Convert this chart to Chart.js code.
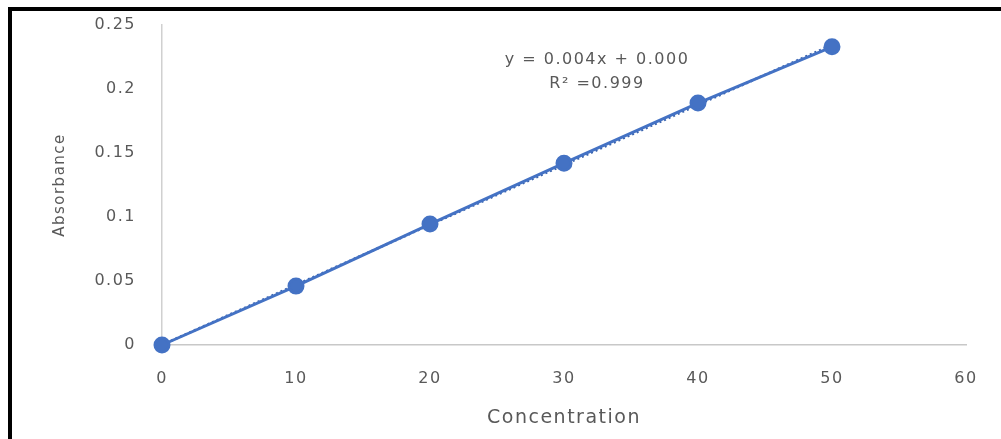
<!DOCTYPE html>
<html>
<head>
<meta charset="utf-8">
<script src="https://cdn.jsdelivr.net/npm/chart.js@4.4.1/dist/chart.umd.min.js"></script>
<style>
  html, body { margin: 0; padding: 0; background: #fff; }
  #wrap { width: 1001px; height: 439px; position: relative; }
</style>
</head>
<body>
<div id="wrap"><canvas id="chart"></canvas></div>
<script>
// Data
const concentrations = [0, 10, 20, 30, 40, 50];
const absorbances = [0, 0.046, 0.0945, 0.142, 0.189, 0.233];
// Trendline ends (as drawn in the picture)
const trendX = [0, 50];
const trendY = [0.0001, 0.2345];
const xTickValues = [0, 10, 20, 30, 40, 50, 60];
const yTickValues = [0, 0.05, 0.1, 0.15, 0.2, 0.25];
const equationLines = ['y = 0.004x + 0.000', 'R\u00b2 =0.999'];

const blue = '#4472C4';
const gray = '#595959';
const fontFamily = '"DejaVu Sans", sans-serif';

// the reference text is widely spaced
const spacing = {
  id: 'spacing',
  beforeLayout(chart) { chart.ctx.letterSpacing = '1.5px'; },
  beforeDraw(chart) { chart.ctx.letterSpacing = '1.5px'; }
};

// frame + trendline label
const extras = {
  id: 'extras',
  afterDraw(chart) {
    const ctx = chart.ctx;
    ctx.save();
    ctx.fillStyle = '#000';
    ctx.fillRect(8, 7, 993, 4);
    ctx.fillRect(8, 7, 4, 432);
    ctx.fillStyle = gray;
    ctx.font = '16px ' + fontFamily;
    ctx.textAlign = 'center';
    ctx.textBaseline = 'middle';
    ctx.fillText(equationLines[0], 597, 60);
    ctx.fillText(equationLines[1], 597, 84);
    ctx.restore();
  }
};

const ctx = document.getElementById('chart').getContext('2d');
new Chart(ctx, {
  type: 'scatter',
  data: {
    datasets: [
      {
        label: 'Absorbance',
        data: concentrations.map((c, i) => ({ x: c, y: absorbances[i] })),
        showLine: true,
        borderColor: blue,
        backgroundColor: blue,
        borderWidth: 3,
        pointRadius: 7,
        pointHoverRadius: 7,
        clip: false,
        order: 1
      },
      {
        label: 'Linear',
        data: trendX.map((x, i) => ({ x: x, y: trendY[i] })),
        showLine: true,
        borderColor: '#3a63ad',
        borderWidth: 2.5,
        borderDash: [2, 3],
        pointRadius: 0,
        clip: false,
        order: 2
      }
    ]
  },
  options: {
    responsive: true,
    maintainAspectRatio: false,
    animation: false,
    layout: { padding: { left: 0, right: 35, top: 25, bottom: 0 } },
    plugins: {
      legend: { display: false },
      tooltip: { enabled: false }
    },
    scales: {
      x: {
        type: 'linear',
        min: 0,
        max: 60,
        afterBuildTicks: s => { s.ticks = xTickValues.map(v => ({ value: v })); },
        afterFit: s => { s.height = 94; s.paddingLeft = 0; s.paddingRight = 0; },
        grid: { display: false, drawTicks: false },
        border: { display: true, color: '#c8c8c8', width: 1.5 },
        ticks: { color: gray, font: { family: fontFamily, size: 16 }, padding: 24 },
        title: {
          display: true,
          text: 'Concentration',
          color: gray,
          font: { family: fontFamily, size: 19 },
          padding: { top: 10, bottom: 10 }
        }
      },
      y: {
        type: 'linear',
        min: 0,
        max: 0.25,
        afterBuildTicks: s => { s.ticks = yTickValues.map(v => ({ value: v })); },
        afterFit: s => { s.width = 162; s.paddingTop = 0; s.paddingBottom = 0; },
        grid: { display: false, drawTicks: false },
        border: { display: true, color: '#d0d0d0', width: 1.5 },
        ticks: { color: gray, font: { family: fontFamily, size: 16 }, padding: 26,
                 callback: v => String(v) },
        title: {
          display: true,
          text: 'Absorbance',
          color: gray,
          font: { family: fontFamily, size: 15 },
          padding: { top: 51, bottom: 0 }
        }
      }
    }
  },
  plugins: [spacing, extras]
});
</script>
</body>
</html>
